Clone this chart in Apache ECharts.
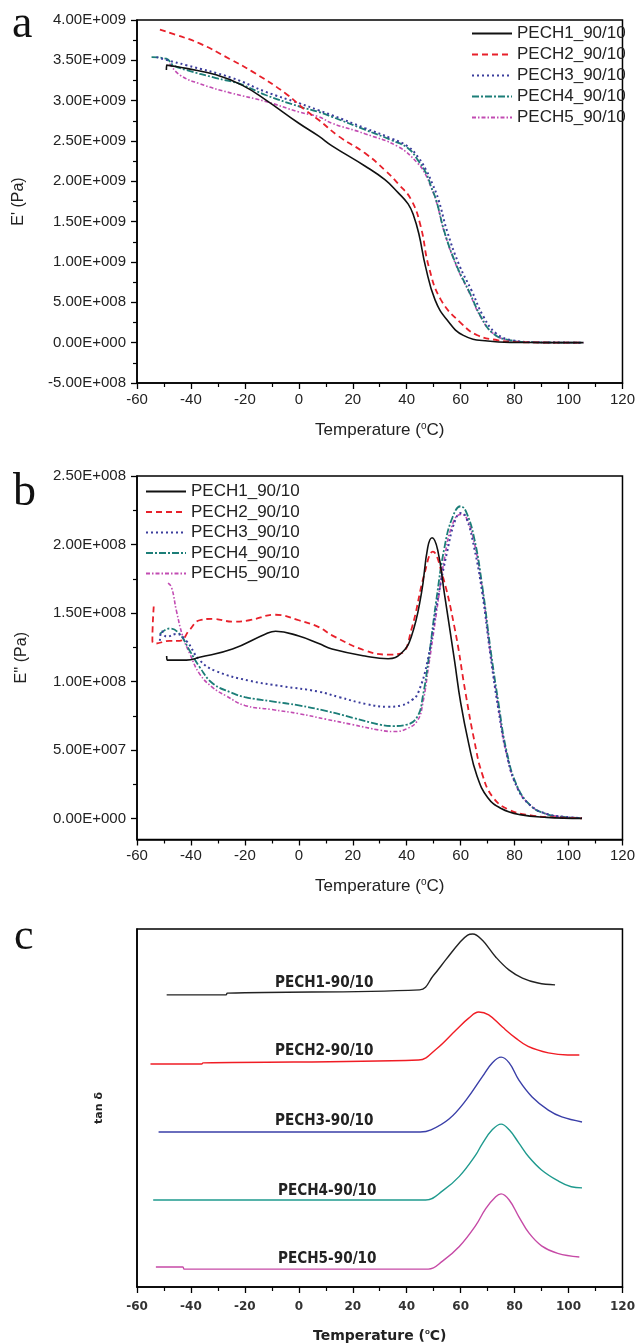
<!DOCTYPE html>
<html>
<head>
<meta charset="utf-8">
<script src="https://cdn.jsdelivr.net/npm/echarts/dist/echarts.min.js"></script>
<style>
	html, body { margin: 0; padding: 0; background: #fff; }
	#dma_canvas { width: 638px; height: 1344px; }
</style>
</head>
<body>
<div id="dma_canvas"></div>
<script>
//Sample names
let legendNames = ['PECH1_90/10', 'PECH2_90/10', 'PECH3_90/10', 'PECH4_90/10', 'PECH5_90/10'];
let tanNames = ['PECH1-90/10', 'PECH2-90/10', 'PECH3-90/10', 'PECH4-90/10', 'PECH5-90/10'];

//Panel a : storage modulus E' (Pa) vs temperature
let storage1 = [[-49.1, 3.38e9], [-49.0, 3.44e9], [-45, 3.42e9], [-41.7, 3.40e9], [-30.7, 3.32e9], [-20.9, 3.19e9], [-12.3, 3.01e9], [0, 2.72e9], [7.4, 2.56e9], [12.3, 2.44e9], [24.5, 2.19e9], [31.9, 2.02e9], [36.8, 1.86e9], [40.5, 1.72e9], [42.5, 1.58e9], [44.5, 1.35e9], [47, 9.4e8], [50.5, 5.3e8], [55, 2.8e8], [61, 9e7], [70, 2e7], [80, 3e6], [90, 1e6], [105.5, 0]];
let storage2 = [[-51.5, 3.88e9], [-45, 3.81e9], [-36.8, 3.71e9], [-25.8, 3.52e9], [-17.2, 3.36e9], [-4.9, 3.09e9], [2.5, 2.88e9], [7.4, 2.76e9], [14.7, 2.56e9], [24.5, 2.35e9], [31.9, 2.14e9], [36.8, 1.97e9], [41.7, 1.77e9], [45.2, 1.44e9], [48.2, 9.4e8], [52.7, 5.3e8], [60.2, 2.4e8], [66.2, 9.2e7], [73.7, 3e7], [80, 1e7], [90, 2e6], [105.5, 0]];
let storage3 = [[-52.8, 3.54e9], [-48.6, 3.50e9], [-41.7, 3.44e9], [-24.6, 3.28e9], [-12.3, 3.11e9], [0, 2.97e9], [7.4, 2.88e9], [12.3, 2.82e9], [24.5, 2.66e9], [34.4, 2.53e9], [40.5, 2.43e9], [44.2, 2.30e9], [47.2, 2.14e9], [49.5, 1.97e9], [51.8, 1.77e9], [55, 1.38e9], [59.5, 9.6e8], [64, 6.5e8], [68.5, 3.2e8], [73, 1.2e8], [79, 3e7], [88, 5e6], [105.5, 0]];
let storage4 = [[-54.6, 3.54e9], [-49.1, 3.52e9], [-46.6, 3.44e9], [-41.7, 3.38e9], [-30.7, 3.28e9], [-22.1, 3.21e9], [-12.3, 3.07e9], [0, 2.93e9], [7.4, 2.86e9], [12.3, 2.80e9], [24.5, 2.64e9], [34.4, 2.51e9], [40.5, 2.41e9], [44.2, 2.26e9], [47.2, 2.10e9], [49.1, 1.93e9], [50.9, 1.77e9], [54.2, 1.35e9], [58.7, 9.4e8], [63.2, 6.3e8], [67.7, 3.1e8], [72.2, 1.1e8], [78.2, 3e7], [88, 5e6], [105.5, 0]];
let storage5 = [[-47.9, 3.46e9], [-44.2, 3.32e9], [-36.8, 3.21e9], [-24.6, 3.09e9], [-12.3, 2.99e9], [0, 2.86e9], [7.4, 2.80e9], [12.3, 2.72e9], [24.5, 2.59e9], [36.8, 2.43e9], [44.2, 2.22e9], [47.2, 2.07e9], [49.1, 1.92e9], [50.9, 1.76e9], [54.2, 1.34e9], [58.7, 9.3e8], [63.2, 6.2e8], [67.7, 3.0e8], [72.2, 1.1e8], [78.2, 3e7], [88, 5e6], [105.5, 0]];

//Panel b : loss modulus E'' (Pa) vs temperature
let loss1 = [[-49, 1.19e8], [-48.8, 1.16e8], [-41.7, 1.16e8], [-36.8, 1.18e8], [-24.6, 1.24e8], [-12.3, 1.35e8], [-8.6, 1.37e8], [0, 1.335e8], [7.4, 1.28e8], [12.3, 1.24e8], [24.5, 1.19e8], [33.1, 1.17e8], [38, 1.21e8], [41.7, 1.33e8], [45.4, 1.64e8], [47.8, 1.98e8], [49.4, 2.05e8], [51.5, 1.96e8], [54, 1.64e8], [57.7, 1.16e8], [60, 8.5e7], [63, 5.5e7], [66, 3.2e7], [70, 1.6e7], [75, 8e6], [82, 3.5e6], [92, 1.5e6], [105, 8e5]];
let loss2 = [[-53.8, 1.55e8], [-54.3, 1.30e8], [-53.5, 1.28e8], [-47.9, 1.30e8], [-44.2, 1.30e8], [-40.5, 1.38e8], [-36.8, 1.45e8], [-31.9, 1.46e8], [-24.5, 1.44e8], [-18.4, 1.45e8], [-8.6, 1.49e8], [0, 1.45e8], [7.4, 1.40e8], [12.3, 1.34e8], [24.5, 1.23e8], [33.1, 1.20e8], [38, 1.21e8], [41.7, 1.38e8], [46.6, 1.79e8], [49.7, 1.95e8], [52.8, 1.81e8], [57.7, 1.40e8], [61.9, 9.1e7], [65, 5.8e7], [68, 3.3e7], [72, 1.6e7], [78, 7e6], [86, 3e6], [95, 1.5e6], [105, 8e5]];
let loss3 = [[-51.5, 1.30e8], [-50.8, 1.37e8], [-49, 1.33e8], [-45.4, 1.35e8], [-41.7, 1.30e8], [-36.8, 1.16e8], [-30.7, 1.08e8], [-18.4, 1.01e8], [-6.1, 9.7e7], [7.4, 9.3e7], [15, 8.9e7], [25, 8.4e7], [33, 8.2e7], [38, 8.3e7], [42, 8.7e7], [44.2, 9.2e7], [47.8, 1.16e8], [51.5, 1.6e8], [55, 1.95e8], [58, 2.18e8], [60.1, 2.23e8], [62, 2.2e8], [65, 1.98e8], [68, 1.65e8], [71, 1.2e8], [74, 8e7], [77, 4.8e7], [81, 2.3e7], [86, 1e7], [92, 4e6], [98, 2e6], [105, 1e6]];
let loss4 = [[-51.5, 1.35e8], [-47.9, 1.39e8], [-44.2, 1.35e8], [-40.5, 1.23e8], [-36.8, 1.11e8], [-31.9, 9.9e7], [-24.6, 9.2e7], [-20, 8.9e7], [-10, 8.6e7], [0, 8.3e7], [10, 7.9e7], [20, 7.4e7], [30, 6.9e7], [35, 6.8e7], [40, 6.9e7], [44, 7.5e7], [46, 9e7], [48, 1.15e8], [51, 1.6e8], [54, 1.98e8], [57, 2.2e8], [60, 2.28e8], [62, 2.24e8], [65, 2.05e8], [68, 1.7e8], [71, 1.25e8], [74, 8.5e7], [77, 5e7], [81, 2.4e7], [86, 1.0e7], [91, 4.5e6], [97, 2e6], [105, 1e6]];
let loss5 = [[-48.5, 1.72e8], [-47.2, 1.69e8], [-45.4, 1.52e8], [-43, 1.33e8], [-40.5, 1.21e8], [-36.8, 1.06e8], [-31.9, 9.6e7], [-27, 9.0e7], [-20, 8.3e7], [-10, 8.0e7], [0, 7.7e7], [10, 7.3e7], [20, 6.9e7], [30, 6.5e7], [35, 6.4e7], [40, 6.6e7], [44, 7.2e7], [46, 8.5e7], [48, 1.1e8], [51, 1.5e8], [54, 1.9e8], [57, 2.15e8], [60, 2.22e8], [62, 2.2e8], [65, 2.02e8], [68, 1.68e8], [71, 1.22e8], [74, 8.2e7], [77, 4.8e7], [81, 2.3e7], [86, 1.0e7], [91, 4.5e6], [97, 2e6], [105, 1e6]];

//Panel c : tan delta, curves stacked with offsets (arbitrary units)
let tan1 = [[-49, 81.6], [-27, 81.6], [-26.5, 82.1], [44.8, 83.0], [49.9, 87.0], [54.6, 91.5], [59.5, 96.1], [62.6, 98.3], [64.5, 98.6], [68, 96.9], [73, 92.2], [78, 88.5], [82.9, 86.3], [88.7, 84.9], [95, 84.4]];
let tan2 = [[-55, 62.3], [-36, 62.3], [-35.5, 62.6], [44.4, 63.4], [51, 66.5], [58.3, 71.8], [63, 75.1], [66.7, 76.8], [70.4, 76.0], [75.5, 72.6], [80.3, 69.6], [85, 67.2], [92.5, 65.4], [99.7, 64.8], [104, 64.8]];
let tan3 = [[-52, 43.3], [45, 43.3], [49, 43.9], [55.8, 47.0], [62, 52.2], [68, 58.7], [71.7, 62.6], [75, 64.2], [78, 62.6], [81.6, 57.8], [86.5, 53.1], [92.5, 49.4], [97.5, 47.5], [105, 46.1]];
let tan4 = [[-54, 24.3], [47, 24.3], [53.4, 26.9], [59.5, 30.9], [65.6, 36.9], [68, 40.0], [71.7, 43.9], [75, 45.5], [78, 43.9], [81.6, 40.2], [85.3, 36.3], [90, 32.7], [96, 29.7], [101, 28.0], [105, 27.7]];
let tan5 = [[-53, 5.6], [-43, 5.6], [-42.5, 5.0], [48, 5.0], [53.4, 7.3], [59.5, 11.3], [65.6, 17.2], [69.3, 21.9], [73, 25.2], [75, 26.0], [78, 24.3], [81.6, 19.6], [85.3, 15.1], [90, 11.5], [96, 9.4], [104, 8.4]];

//Axis ranges
let tempRange = [-60, 120, 20];
let storageRange = [-5e8, 4e9, 5e8];
let lossRange = [-1.46e7, 2.5e8, 5e7];
let tanRange = [0, 100];

let colors = ['#111111', '#e8202a', '#3b3d9c', '#1c7e78', '#c24bb2'];
let tanColors = ['#222222', '#f01c24', '#3a3fa8', '#1f9a8e', '#c64aa6'];
let dashes = ['solid', [6, 4], [2, 3], [7, 2, 2, 2], [4, 2, 1.5, 2]];
let widths = [1.6, 1.8, 2, 1.8, 1.6];

const SANS = '"Liberation Sans", Arial, sans-serif';
const BOLD = '"DejaVu Sans", sans-serif';

function sci(v) {
	if (Math.abs(v) < 1) return '0.00E+000';
	let e = Math.floor(Math.log10(Math.abs(v)) + 1e-9);
	let m = v / Math.pow(10, e);
	let s = String(Math.abs(e));
	while (s.length < 3) s = '0' + s;
	return m.toFixed(2) + 'E' + (e < 0 ? '-' : '+') + s;
}

function tempAxis(grid) {
	return {
		type: 'value', gridIndex: grid,
		min: tempRange[0], max: tempRange[1], interval: tempRange[2],
		name: 'Temperature ({o|o}C)', nameLocation: 'middle', nameGap: 38,
		nameTextStyle: {
			fontFamily: SANS, fontSize: 17, color: '#222',
			rich: { o: { fontSize: 10, verticalAlign: 'top', padding: [0, 0, 8, 0], fontFamily: SANS, color: '#222' } }
		},
		axisLine: { show: true, onZero: false, lineStyle: { color: '#000', width: 1.5 } },
		axisTick: { show: true, length: 6, lineStyle: { color: '#000', width: 1.3 } },
		minorTick: { show: true, splitNumber: 2, length: 4, lineStyle: { color: '#000', width: 1.2 } },
		axisLabel: { fontFamily: SANS, fontSize: 15, color: '#222', margin: 9 },
		splitLine: { show: false }
	};
}

function lineSeries(name, data, i, xi, yi) {
	return {
		name: name, type: 'line', data: data,
		xAxisIndex: xi, yAxisIndex: yi,
		showSymbol: false, symbol: 'none', smooth: 0.45,
		lineStyle: { color: colors[i], type: dashes[i], width: widths[i] },
		itemStyle: { color: colors[i] },
		z: 10 - i
	};
}

function tanSeries(name, data, i) {
	return {
		name: name, type: 'line', data: data,
		xAxisIndex: 3, yAxisIndex: 3,
		showSymbol: false, symbol: 'none', smooth: 0.4,
		lineStyle: { color: tanColors[i], width: 1.4 }
	};
}

function legendBlock(left, top, gap) {
	return {
		left: left, top: top, orient: 'vertical',
		data: legendNames, itemWidth: 40, itemHeight: 14, itemGap: gap,
		itemStyle: { color: 'transparent', borderColor: 'transparent', borderWidth: 0 },
		textStyle: { fontFamily: SANS, fontSize: 17, color: '#222', lineHeight: 17 },
		selectedMode: false
	};
}

let storageData = [storage1, storage2, storage3, storage4, storage5];
let lossData = [loss1, loss2, loss3, loss4, loss5];
let tanData = [tan1, tan2, tan3, tan4, tan5];

let chart = echarts.init(document.getElementById('dma_canvas'), null, { renderer: 'canvas' });

let series = [];
for (let i = 0; i < 5; i++) series.push(lineSeries(legendNames[i], storageData[i], i, 0, 0));
for (let i = 0; i < 5; i++) series.push(lineSeries(legendNames[i], lossData[i], i, 1, 1));
for (let i = 0; i < 5; i++) series.push(tanSeries(tanNames[i], tanData[i], i));

//Labels that sit above each tan delta baseline
let tanLabelY = [983, 1051, 1121, 1191, 1259];
let tanLabelX = [275, 275, 275, 278, 278];
let graphics = [
	{ type: 'text', left: 12, top: 2, style: { text: 'a', font: '46px "Liberation Serif", serif', fill: '#111' } },
	{ type: 'text', left: 13, top: 470, style: { text: 'b', font: '46px "Liberation Serif", serif', fill: '#111' } },
	{ type: 'text', left: 14, top: 915, style: { text: 'c', font: '44px "Liberation Serif", serif', fill: '#111' } }
];
for (let i = 0; i < 5; i++) {
	graphics.push({
		type: 'text', x: tanLabelX[i], y: tanLabelY[i], scaleX: 0.85,
		style: { text: tanNames[i], font: 'bold 16px ' + BOLD, fill: '#222', align: 'left', verticalAlign: 'middle', textVerticalAlign: 'middle' }
	});
}

let axisA = tempAxis(0);
let axisB = tempAxis(1);
let axisC = tempAxis(3);
axisC.nameGap = 41;
axisC.nameTextStyle.fontFamily = BOLD;
axisC.nameTextStyle.fontWeight = 'bold';
axisC.nameTextStyle.fontSize = 14;
axisC.nameTextStyle.rich.o.fontSize = 8;
axisC.axisLabel = { fontFamily: BOLD, fontWeight: 'bold', fontSize: 12, color: '#333', margin: 14 };

let option = {
	animation: false,
	backgroundColor: '#fff',
	grid: [
		{ left: 137, top: 20, width: 489, height: 363, show: true, borderColor: '#000', borderWidth: 1.5 },
		{ left: 137, top: 476, width: 489, height: 363.5, show: true, borderColor: '#000', borderWidth: 1.5 },
		{ left: 137, top: 476, width: 489, height: 342.5, show: false },
		{ left: 137, top: 929, width: 491, height: 358, show: true, borderColor: '#000', borderWidth: 1.5 }
	],
	legend: [legendBlock(466, 20, 4), legendBlock(140, 478, 3.5)],
	xAxis: [
		axisA,
		axisB,
		{ type: 'value', gridIndex: 2, min: tempRange[0], max: tempRange[1], show: false },
		axisC
	],
	yAxis: [
		{
			type: 'value', gridIndex: 0,
			min: storageRange[0], max: storageRange[1], interval: storageRange[2],
			name: "E' (Pa)", nameLocation: 'middle', nameGap: 110,
			nameTextStyle: { fontFamily: SANS, fontSize: 16, color: '#222' },
			axisLine: { show: true, onZero: false, lineStyle: { color: '#000', width: 1.5 } },
			axisTick: { show: true, length: 6, lineStyle: { color: '#000', width: 1.3 } },
			minorTick: { show: true, splitNumber: 2, length: 4, lineStyle: { color: '#000', width: 1.2 } },
			axisLabel: { fontFamily: SANS, fontSize: 15, color: '#222', margin: 11, formatter: sci },
			splitLine: { show: false }
		},
		{
			type: 'value', gridIndex: 1,
			min: lossRange[0], max: lossRange[1],
			name: "E'' (Pa)", nameLocation: 'middle', nameGap: 107,
			nameTextStyle: { fontFamily: SANS, fontSize: 16, color: '#222' },
			axisLine: { show: true, onZero: false, lineStyle: { color: '#000', width: 1.5 } },
			axisTick: { show: false },
			axisLabel: { show: false },
			splitLine: { show: false }
		},
		{
			//tick scale for panel b, starts at zero above the frame bottom
			type: 'value', gridIndex: 2,
			min: 0, max: lossRange[1], interval: lossRange[2],
			axisLine: { show: false, onZero: false },
			axisTick: { show: true, length: 6, lineStyle: { color: '#000', width: 1.3 } },
			minorTick: { show: true, splitNumber: 2, length: 4, lineStyle: { color: '#000', width: 1.2 } },
			axisLabel: { fontFamily: SANS, fontSize: 15, color: '#222', margin: 11, formatter: sci },
			splitLine: { show: false }
		},
		{
			type: 'value', gridIndex: 3,
			min: tanRange[0], max: tanRange[1],
			name: 'tan δ', nameLocation: 'middle', nameGap: 32,
			nameTextStyle: { fontFamily: BOLD, fontWeight: 'bold', fontSize: 11, color: '#222' },
			axisLine: { show: true, onZero: false, lineStyle: { color: '#000', width: 1.5 } },
			axisTick: { show: false },
			axisLabel: { show: false },
			splitLine: { show: false }
		}
	],
	graphic: graphics,
	series: series
};

chart.setOption(option);
</script>
</body>
</html>
